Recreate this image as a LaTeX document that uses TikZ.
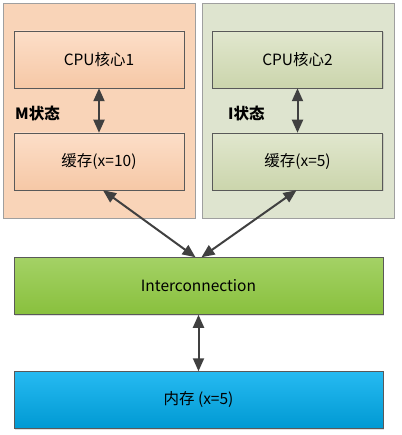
\documentclass[tikz,border=0pt]{standalone}
\usepackage{fontspec}
\setmainfont{Noto Sans CJK SC}
\usetikzlibrary{arrows.meta,shadows}
\definecolor{peachbg}{RGB}{249,212,184}
\definecolor{peachtop}{RGB}{252,222,200}
\definecolor{peachbot}{RGB}{246,200,166}
\definecolor{olivebg}{RGB}{222,228,207}
\definecolor{olivetop}{RGB}{225,231,206}
\definecolor{olivebot}{RGB}{203,213,172}
\definecolor{busgreen}{RGB}{141,198,63}
\definecolor{memblue}{RGB}{0,174,239}
\definecolor{arrowgray}{RGB}{64,64,64}
\tikzset{
  panel/.style={draw=gray!75, line width=0.6pt, minimum width=192pt, minimum height=215pt},
  box/.style={draw=gray!70!black, line width=0.5pt, minimum width=170pt, minimum height=57pt,
    font=\fontsize{15.5}{18}\selectfont, drop shadow={shadow xshift=1pt, shadow yshift=-1pt, opacity=0.25}},
  wide/.style={box, minimum width=369pt},
  conn/.style={{Triangle[length=13pt,width=11pt]}-{Triangle[length=13pt,width=11pt]}, line width=2pt, arrowgray}
}

\begin{document}
\begin{tikzpicture}[x=1pt,y=-1pt]
    \useasboundingbox (0,0) rectangle (401,435);
    % Draw the two core panels
    \node[panel, fill=peachbg] (core1) at (99,110.5) {};
    \node[panel, fill=olivebg] (core2) at (298.5,110.5) {};

    % Draw the CPU and cache boxes
    \node[box, top color=peachtop, bottom color=peachbot] (cpu1) at (99,59.5) {CPU核心1};
    \node[box, top color=peachtop, bottom color=peachbot] (cache1) at (99,161.5) {缓存(x=10)};
    \node[box, top color=olivetop, bottom color=olivebot] (cpu2) at (297.5,59.5) {CPU核心2};
    \node[box, top color=olivetop, bottom color=olivebot] (cache2) at (297.5,161.5) {缓存(x=5)};

    % State labels
    \node[font=\fontsize{15.5}{18}\selectfont\bfseries, anchor=west, inner sep=0pt] (state1) at (15,114) {M状态};
    \node[font=\fontsize{15.5}{18}\selectfont\bfseries, anchor=west, inner sep=0pt] (state2) at (228,114) {I状态};

    % Draw the bus and the memory
    \node[wide, top color=busgreen!80!white, bottom color=busgreen!97!black] (bus) at (198.5,286) {Interconnection};
    \node[wide, top color=memblue!85!white, bottom color=memblue!88!black] (mem) at (198.5,400) {内存 (x=5)};

    % Draw the arrows
    \draw[conn] (cpu1) -- (cache1);
    \draw[conn] (cpu2) -- (cache2);
    \draw[conn] ([xshift=4pt]cache1.south) -- ([xshift=-3pt]bus.north);
    \draw[conn] ([xshift=-1pt]cache2.south) -- ([xshift=3pt]bus.north);
    \draw[conn] (bus) -- (mem);
\end{tikzpicture}
\end{document}
